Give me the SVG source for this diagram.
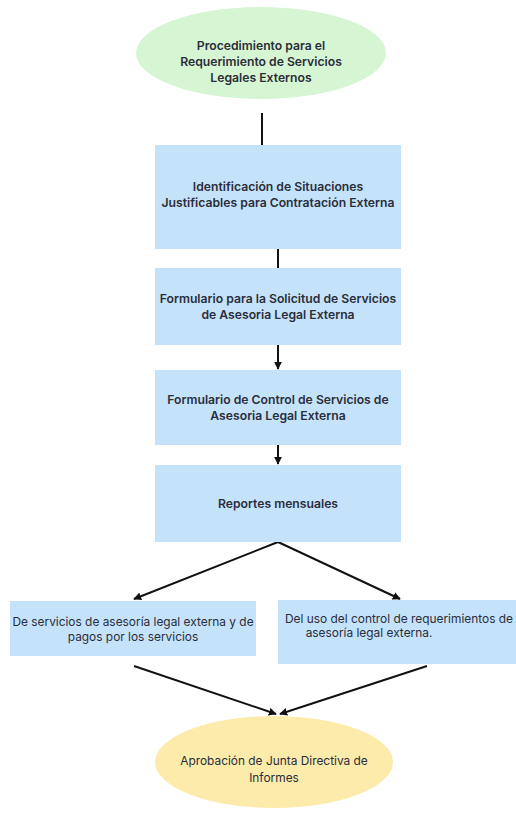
<svg xmlns="http://www.w3.org/2000/svg" width="516" height="814" viewBox="0 0 516 814">
<defs>
<marker id="ah" viewBox="0 0 10 10" refX="9" refY="5" markerWidth="4" markerHeight="4" orient="auto" markerUnits="strokeWidth">
<path d="M0,0 L10,5 L0,10 z" fill="#111"/>
</marker>
<style>
.box{fill:#c4e3fb;}
.t{font-family:Inter,"Noto Sans","Liberation Sans",sans-serif;font-size:11.9px;fill:#2b2d3a;text-anchor:middle;}
.b{font-weight:600;font-size:12.2px;}
.c{stroke:#111;stroke-width:2;fill:none;}
</style>
</defs>
<rect width="516" height="814" fill="#fff"/>
<g id="connectors">
<line class="c" x1="262" y1="113" x2="262" y2="145"/>
<line class="c" x1="278" y1="249" x2="278" y2="268"/>
<line class="c" x1="278" y1="345" x2="278" y2="369" marker-end="url(#ah)"/>
<line class="c" x1="278" y1="445" x2="278" y2="464" marker-end="url(#ah)"/>
<line class="c" x1="278" y1="542" x2="134" y2="599" marker-end="url(#ah)"/>
<line class="c" x1="278" y1="542" x2="400" y2="599" marker-end="url(#ah)"/>
<line class="c" x1="134" y1="666" x2="276" y2="714" marker-end="url(#ah)"/>
<line class="c" x1="427" y1="666" x2="280" y2="714" marker-end="url(#ah)"/>
</g>
<g id="start">
<ellipse cx="261" cy="53" rx="125" ry="46" fill="#d6f5d3"/>
<text class="t b" x="261" y="50">Procedimiento para el</text>
<text class="t b" x="261" y="66">Requerimiento de Servicios</text>
<text class="t b" x="261" y="82">Legales Externos</text>
</g>
<g id="n1">
<rect class="box" x="155" y="145" width="246" height="104"/>
<text class="t b" x="278" y="191">Identificación de Situaciones</text>
<text class="t b" x="278" y="207">Justificables para Contratación Externa</text>
</g>
<g id="n2">
<rect class="box" x="155" y="268" width="246" height="77"/>
<text class="t b" x="278" y="303">Formulario para la Solicitud de Servicios</text>
<text class="t b" x="278" y="319">de Asesoria Legal Externa</text>
</g>
<g id="n3">
<rect class="box" x="155" y="370" width="246" height="75"/>
<text class="t b" x="278" y="404">Formulario de Control de Servicios de</text>
<text class="t b" x="278" y="420">Asesoria Legal Externa</text>
</g>
<g id="n4">
<rect class="box" x="155" y="465" width="246" height="77"/>
<text class="t b" x="278" y="508">Reportes mensuales</text>
</g>
<g id="n5">
<rect class="box" x="10" y="601" width="246" height="55"/>
<text class="t" x="133" y="626">De servicios de asesoría legal externa y de</text>
<text class="t" x="133" y="641">pagos por los servicios</text>
</g>
<g id="n6">
<rect class="box" x="278" y="600" width="245" height="64"/>
<text class="t" x="285" y="623" style="text-anchor:start">Del uso del control de requerimientos de</text>
<text class="t" x="369" y="637">asesoría legal externa.</text>
</g>
<g id="end">
<ellipse cx="274" cy="762" rx="119" ry="46" fill="#fcebaa"/>
<text class="t" x="274" y="765">Aprobación de Junta Directiva de</text>
<text class="t" x="274" y="782">Informes</text>
</g>
</svg>
